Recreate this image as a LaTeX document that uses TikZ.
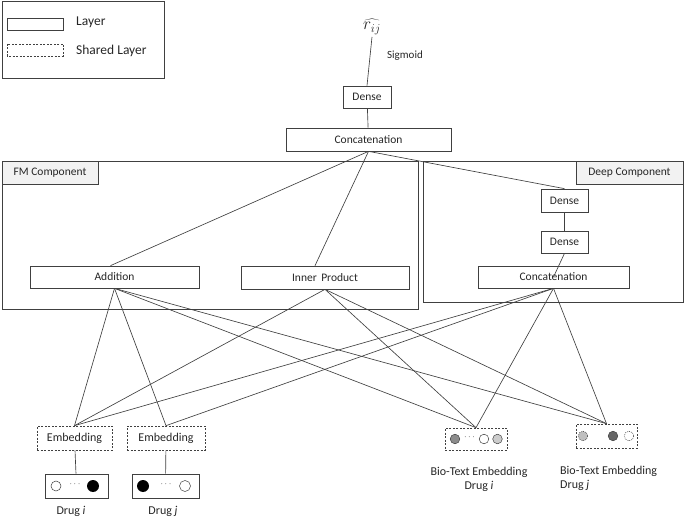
\documentclass[tikz,border=0pt]{standalone}
\usepackage{fontspec}
\setmainfont{Carlito}
\definecolor{linec}{HTML}{404040}
\definecolor{labfill}{HTML}{F2F2F2}
\definecolor{txt}{HTML}{262626}
\begin{document}
\begin{tikzpicture}[x=1pt,y=-1pt,
  lay/.style={draw=linec, line width=0.7pt, inner sep=0pt, text=txt, font=\fontsize{11.5}{13}\selectfont},
  shared/.style={lay, dash pattern=on 2pt off 1.5pt},
  conn/.style={draw=linec, line width=0.65pt},
  comp/.style={draw=linec, line width=0.9pt, inner sep=0pt},
  lab/.style={comp, fill=labfill, text=txt, font=\fontsize{11.5}{13}\selectfont},
  plain/.style={inner sep=0pt, text=txt, font=\fontsize{12}{14}\selectfont},
  dot/.style={line width=0.5pt, draw=linec}
]
\useasboundingbox (0,0) rectangle (685,518);

% legend
\node[comp, minimum width=162pt, minimum height=77pt] (legend) at (83,39.5) {};
\draw[lay] (7,18) rectangle (63,30);
\draw[shared] (7,44) rectangle (63,56);
\node[plain, anchor=west, font=\fontsize{13.5}{15}\selectfont] (tl) at (76,22) {Layer};
\node[plain, anchor=west, font=\fontsize{13.5}{15}\selectfont] (tsl) at (76,51) {Shared Layer};

% containers
\node[comp, minimum width=416pt, minimum height=148pt] (fm) at (210,235) {};
\node[comp, minimum width=260pt, minimum height=141pt] (deep) at (553,231.5) {};
\node[lab, minimum width=96pt, minimum height=23pt] (fmlab) at (50,172.5) {FM Component};
\node[lab, minimum width=107pt, minimum height=23pt] (deeplab) at (629.5,172.5) {Deep Component};

% top
\node[plain, font=\fontsize{17}{19}\selectfont] (rhat) at (372,27) {$\widehat{r_{ij}}$};
\node[plain, font=\fontsize{11}{13}\selectfont] (sig) at (405,56) {Sigmoid};
\node[lay, minimum width=48pt, minimum height=22pt] (dense0) at (367,97) {Dense};
\node[lay, minimum width=165pt, minimum height=23pt] (concat0) at (368.5,139.5) {Concatenation};

% FM component
\node[lay, minimum width=169pt, minimum height=22pt] (add) at (114.5,277) {Addition};
\node[lay, minimum width=168pt, minimum height=23pt] (ip) at (325,277.5) {Inner\,\ Product};

% Deep component
\node[lay, minimum width=47pt, minimum height=23pt] (d1) at (564.5,200.5) {Dense};
\node[lay, minimum width=47pt, minimum height=22pt] (d2) at (564.5,242) {Dense};
\node[lay, minimum width=151pt, minimum height=22pt] (dc) at (553.5,277) {Concatenation};

% bottom embeddings
\node[shared, minimum width=75pt, minimum height=24pt, font=\fontsize{12}{14}\selectfont] (e1) at (74.5,438) {Embedding};
\node[shared, minimum width=78pt, minimum height=24pt, font=\fontsize{12}{14}\selectfont] (e2) at (166,438) {Embedding};
\node[lay, minimum width=63pt, minimum height=24pt] (di) at (76.5,486) {};
\node[lay, minimum width=67pt, minimum height=24pt] (dj) at (165.5,486) {};
\node[shared, minimum width=62pt, minimum height=22pt] (bi) at (476,439) {};
\node[shared, minimum width=61pt, minimum height=24pt] (bj) at (606.5,436) {};

% labels
\node[plain] (ldi) at (71,511) {Drug \textit{i}};
\node[plain] (ldj) at (163,511) {Drug \textit{j}};
\node[plain, align=center] (lbi) at (479,479) {Bio-Text Embedding\\[0pt]Drug \textit{i}};
\node[plain, align=left, anchor=north west] (lbj) at (560,466) {Bio-Text Embedding\\[0pt]Drug \textit{j}};

% circles
\draw[dot, fill=white] (56,486) circle (5);
\node[plain, font=\bfseries\fontsize{9}{10}\selectfont] (ddi) at (75,484.5) {$\cdots$};
\fill[black] (93,486) circle (6);
\fill[black] (143,486) circle (6);
\node[plain, font=\fontsize{9}{10}\selectfont] (ddj) at (166,484.5) {$\cdots$};
\draw[dot, fill=white] (185,486) circle (5.5);

\draw[dot, fill=black!45] (455,439) circle (4.8);
\node[plain, font=\fontsize{9}{10}\selectfont] (dbi) at (469.5,437.5) {$\cdots$};
\draw[dot, fill=white] (484,439) circle (4.8);
\draw[dot, fill=black!20] (497.5,439) circle (4.8);

\draw[dot, dash pattern=on 1pt off 1pt, fill=black!25] (583,436) circle (4.8);
\draw[dot, fill=black!60] (613,436) circle (4.8);
\draw[dot, dash pattern=on 1pt off 1pt, fill=white] (629,436) circle (4.8);

% connectors
\draw[conn] (rhat.south) ++(0,2) -- (dense0.north);
\draw[conn] (dense0) -- (concat0);
\draw[conn] (concat0.south) -- ([xshift=-4pt]add.north);
\draw[conn] (concat0.south) -- ([xshift=-10pt]ip.north);
\draw[conn] (concat0.south) -- (d1.north);
\draw[conn] (d1) -- (d2);
\draw[conn] (d2.south) -- (dc.center);

\foreach \t in {e1,e2,bi,bj} \draw[conn] (add.south) -- (\t.north);
\foreach \t in {e1,bi,bj} \draw[conn] (ip.south) -- (\t.north);
\foreach \t in {e1,e2,bi,bj} \draw[conn] (dc.south) -- (\t.north);

\draw[conn] (e1) -- (di);
\draw[conn] (e2) -- (dj);
\end{tikzpicture}
\end{document}
